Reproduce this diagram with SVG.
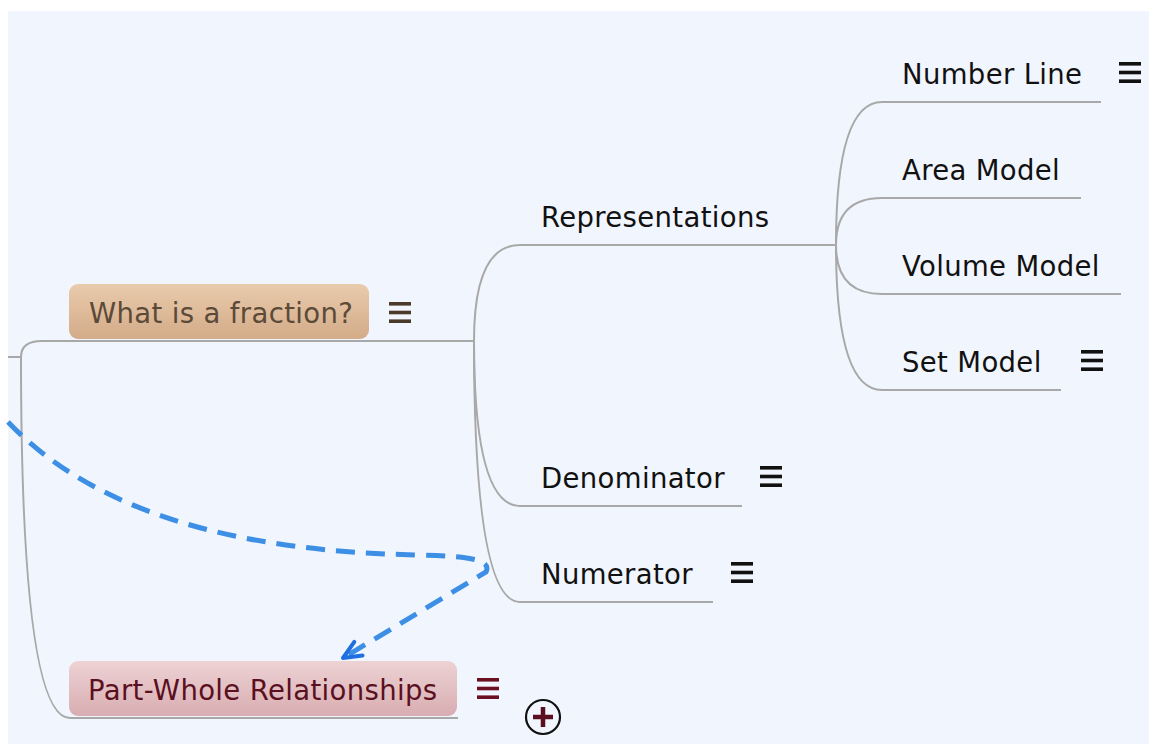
<svg xmlns="http://www.w3.org/2000/svg" width="1149" height="744" viewBox="0 0 1149 744">
  <defs>
    <linearGradient id="gradTan" x1="0" y1="0" x2="0" y2="1">
      <stop offset="0" stop-color="#e9cbad"/>
      <stop offset="1" stop-color="#d3ab88"/>
    </linearGradient>
    <linearGradient id="gradRose" x1="0" y1="0" x2="0" y2="1">
      <stop offset="0" stop-color="#edd2d4"/>
      <stop offset="1" stop-color="#d8adb1"/>
    </linearGradient>
    <marker id="openArrow" markerUnits="userSpaceOnUse" viewBox="-22 -12 26 24" refX="0" refY="0" markerWidth="26" markerHeight="24" orient="auto">
      <path d="M -18 -8 L 0 0 L -18 8" fill="none" stroke="#1f6fe0" stroke-width="4" stroke-linecap="round" stroke-linejoin="round"/>
    </marker>
    <g id="menu">
      <rect x="0" y="0" width="22" height="3.6"/>
      <rect x="0" y="8.7" width="22" height="3.6"/>
      <rect x="0" y="17.4" width="22" height="3.6"/>
    </g>
  </defs>
  <style>
    .label { font-family: "DejaVu Sans", Verdana, sans-serif; font-size: 27.5px; letter-spacing: 0.35px; fill: #111111; }
    .branch { fill: none; stroke: #a8a8a8; stroke-width: 2; }
    .relation { fill: none; stroke: #3d8fe6; stroke-width: 5; stroke-dasharray: 19 11; }
  </style>

  <!-- canvas -->
  <rect x="0" y="0" width="1149" height="744" fill="#ffffff"/>
  <rect x="8" y="11" width="1141" height="733" fill="#f1f5fd"/>

  <!-- connectors -->
  <g id="connectors">
    <path class="branch" d="M 8 357 L 21 357"/>
    <path class="branch" d="M 21 357 Q 21 341 42 341 L 474 341"/>
    <path class="branch" d="M 21 357 Q 21 718 70 718 L 458 718"/>
    <path class="branch" d="M 474 341 Q 474 245 520 245 L 836 245"/>
    <path class="branch" d="M 474 341 Q 474 506 520 506 L 742 506"/>
    <path class="branch" d="M 474 341 Q 474 602 520 602 L 713 602"/>
    <path class="branch" d="M 836 245 Q 836 102 882 102 L 1101 102"/>
    <path class="branch" d="M 836 245 Q 836 198 882 198 L 1081 198"/>
    <path class="branch" d="M 836 245 Q 836 294 882 294 L 1121 294"/>
    <path class="branch" d="M 836 245 Q 836 390 882 390 L 1061 390"/>
    <path class="relation" d="M 8 422 C 100 518 250 552 420 555 C 470 556 492 560 486 572 L 343 658" marker-end="url(#openArrow)"/>
  </g>

  <!-- nodes -->
  <g id="node-fraction">
    <rect x="69" y="284" width="300" height="55" rx="9" fill="url(#gradTan)"/>
    <text class="label" x="89" y="323" style="fill:#5c4a38">What is a fraction?</text>
    <use href="#menu" x="389" y="302" fill="#4a3a2a"/>
  </g>

  <g id="node-part-whole">
    <rect x="69" y="661" width="388" height="55" rx="9" fill="url(#gradRose)"/>
    <text class="label" x="88" y="700" style="fill:#5a1020">Part-Whole Relationships</text>
    <use href="#menu" x="477" y="678" fill="#6a1020"/>
    <circle cx="543" cy="717" r="17" fill="none" stroke="#111111" stroke-width="2.2"/>
    <path d="M 533 717 L 553 717 M 543 707 L 543 727" stroke="#5a1020" stroke-width="4.5"/>
  </g>

  <g id="node-representations">
    <text class="label" x="541" y="227">Representations</text>
  </g>

  <g id="node-denominator">
    <text class="label" x="541" y="488">Denominator</text>
    <use href="#menu" x="760" y="466" fill="#111111"/>
  </g>

  <g id="node-numerator">
    <text class="label" x="541" y="584">Numerator</text>
    <use href="#menu" x="731" y="562" fill="#111111"/>
  </g>

  <g id="node-number-line">
    <text class="label" x="902" y="84">Number Line</text>
    <use href="#menu" x="1119" y="62" fill="#111111"/>
  </g>

  <g id="node-area-model">
    <text class="label" x="902" y="180">Area Model</text>
  </g>

  <g id="node-volume-model">
    <text class="label" x="902" y="276">Volume Model</text>
  </g>

  <g id="node-set-model">
    <text class="label" x="902" y="372">Set Model</text>
    <use href="#menu" x="1081" y="350" fill="#111111"/>
  </g>
</svg>
